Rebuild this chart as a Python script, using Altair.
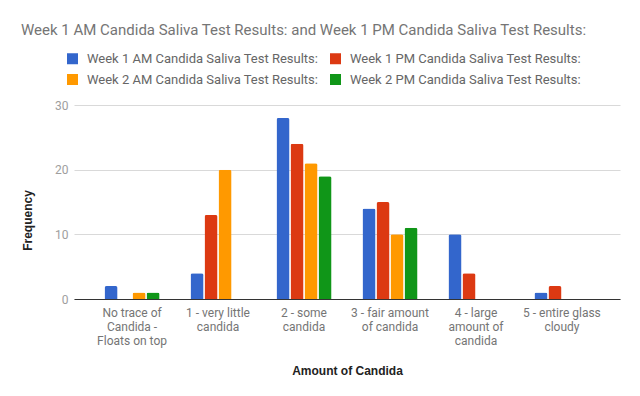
import altair as alt
import pandas as pd

categories = [
    "No trace of\nCandida -\nFloats on top",
    "1 - very little\ncandida",
    "2 - some\ncandida",
    "3 - fair amount\nof candida",
    "4 - large\namount of\ncandida",
    "5 - entire glass\ncloudy",
]
series = [
    "Week 1 AM Candida Saliva Test Results:",
    "Week 1 PM Candida Saliva Test Results:",
    "Week 2 AM Candida Saliva Test Results:",
    "Week 2 PM Candida Saliva Test Results:",
]
week1_am = [2, 4, 28, 14, 10, 1]
week1_pm = [0, 13, 24, 15, 4, 2]
week2_am = [1, 20, 21, 10, 0, 0]
week2_pm = [1, 0, 19, 11, 0, 0]
colors = ["#3366cc", "#dc3912", "#ff9900", "#109618"]
y_ticks = [0, 10, 20, 30]

rows = []
for s, vals in zip(series, [week1_am, week1_pm, week2_am, week2_pm]):
    for c, v in zip(categories, vals):
        rows.append({"category": c, "series": s, "value": v})
df = pd.DataFrame(rows)

title_text = "Week 1 AM Candida Saliva Test Results: and Week 1 PM Candida Saliva Test Results:"

chart = alt.Chart(df).mark_bar(
    cornerRadiusTopLeft=2, cornerRadiusTopRight=2
).encode(
    x=alt.X(
        "category:N",
        sort=categories,
        scale=alt.Scale(paddingInner=0.36, paddingOuter=0.355),
        axis=alt.Axis(
            title="Amount of Candida",
            labelAngle=0,
            labelExpr="split(datum.label, '\\n')",
            labelFont="Roboto",
            labelFontSize=12,
            labelColor="#757575",
            labelLineHeight=14,
            labelBaseline="top",
            labelPadding=8,
            labelLimit=200,
            ticks=False,
            domainColor="#333333",
            domainWidth=1,
            titleFont="Liberation Sans",
            titleFontSize=12,
            titleFontWeight="bold",
            titleColor="#222222",
            titleBaseline="alphabetic",
            titleAlign="center",
            titleX=273,
            titleY=75,
        ),
    ),
    xOffset=alt.XOffset("series:N", sort=series, scale=alt.Scale(paddingInner=0.07)),
    y=alt.Y(
        "value:Q",
        scale=alt.Scale(domain=[0, 30], nice=False),
        axis=alt.Axis(
            title="Frequency",
            values=y_ticks,
            domain=False,
            ticks=False,
            gridColor="#d9d9d9",
            gridWidth=1,
            labelFont="Roboto",
            labelFontSize=12,
            labelColor="#9e9e9e",
            labelPadding=6,
            titleFont="Liberation Sans",
            titleFontSize=12,
            titleFontWeight="bold",
            titleColor="#222222",
            titleAngle=270,
            titleBaseline="alphabetic",
            titleAlign="center",
            titleX=-43,
            titleY=115,
        ),
    ),
    color=alt.Color(
        "series:N",
        sort=series,
        scale=alt.Scale(domain=series, range=colors),
        legend=alt.Legend(
            title=None,
            orient="none",
            direction="horizontal",
            legendX=-8,
            legendY=-53,
            columns=2,
            columnPadding=10,
            rowPadding=7,
            symbolType="square",
            symbolSize=121,
            symbolStrokeWidth=0,
            labelFont="Roboto",
            labelFontSize=13,
            labelColor="#666666",
            labelOffset=8,
            labelLimit=400,
            padding=0,
        ),
    ),
).properties(
    width=546,
    height=194,
    padding={"left": 66, "top": 97, "right": 12, "bottom": 89},
    autosize=alt.AutoSizeParams(type="none"),
    title=alt.TitleParams(
        text=title_text,
        anchor="start",
        frame="group",
        font="Roboto",
        fontSize=15,
        fontWeight="normal",
        color="#757575",
        dx=-53,
        dy=-14,
        offset=0,
    ),
).configure_view(stroke=None)

chart.save("out.html", embed_options={"renderer": "svg", "actions": False})
